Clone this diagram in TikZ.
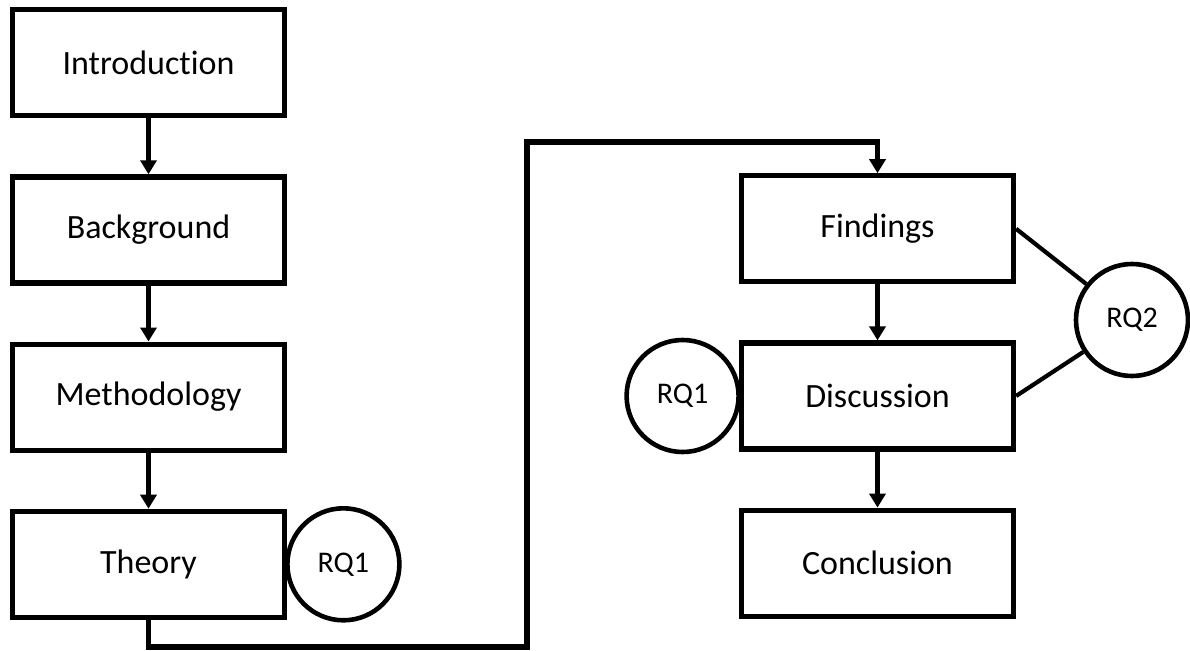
\documentclass[tikz,border=0pt]{standalone}
\usepackage{fontspec}
\setmainfont{Carlito}[Ligatures=NoCommon]
\usetikzlibrary{matrix,positioning,arrows.meta}

\begin{document}
\begin{tikzpicture}[x=0.5pt,y=0.5pt]

% Define styles for the stages, questions and arrows
\tikzset{
  stage/.style={draw, line width=2.6pt, minimum width=136pt, minimum height=53pt,
    anchor=center, font=\fontsize{17}{20}\selectfont}, % Box for each chapter
  rq/.style={draw, circle, line width=2.3pt, minimum size=56pt, inner sep=0pt,
    font=\fontsize{15}{18}\selectfont}, % Circle for a research question
  flow/.style={line width=2.6pt, -{Triangle[width=8pt,length=7pt]}}, % Arrow between stages
  link/.style={line width=2.1pt} % Plain line to a question
}

\useasboundingbox (0,0) rectangle (1190,650);

% First column of chapters
\matrix (ml) [
  matrix of nodes,
  nodes={stage},
  row sep=28pt % Gap between boxes
] at (148.5,336.5) {
  Introduction \\
  Background \\
  Methodology \\
  Theory \\
};

% Second column of chapters
\matrix (mr) [
  matrix of nodes,
  nodes={stage},
  row sep=28pt % Gap between boxes
] at (877.5,254) {
  Findings \\
  Discussion \\
  Conclusion \\
};

% Research questions
\node[rq, right=-1pt of ml-4-1] (rqa) {RQ1};
\node[rq, left=-1pt of mr-2-1] (rqb) {RQ1};
\node[rq] (rqc) at (1132,330) {RQ2};

% Arrows inside the columns
\foreach \a/\b in {1/2,2/3,3/4}
  \draw[flow] (ml-\a-1) -- (ml-\b-1);
\foreach \a/\b in {1/2,2/3}
  \draw[flow] (mr-\a-1) -- (mr-\b-1);

% From Theory over to Findings
\coordinate (dip) at (527,3);
\coordinate (rise) at (527,508);
\draw[flow] (ml-4-1.south) |- (dip) -- (rise) -| (mr-1-1.north);

% Lines to RQ2
\draw[link] (mr-1-1.east) -- (rqc);
\draw[link] (mr-2-1.east) -- (rqc);

\end{tikzpicture}
\end{document}
